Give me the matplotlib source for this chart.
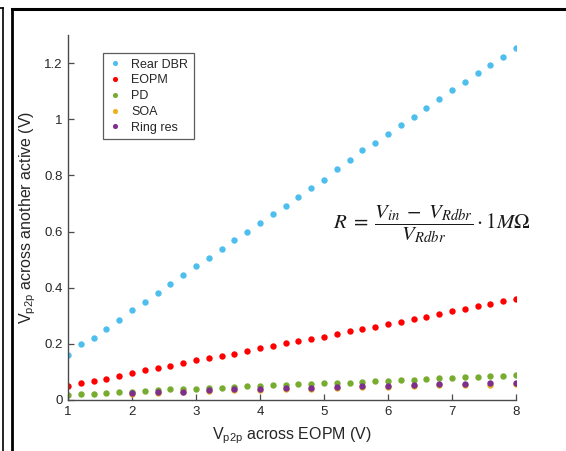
import numpy as np
import matplotlib
matplotlib.use("Agg")
import matplotlib.pyplot as plt
from matplotlib.lines import Line2D

plt.rcParams['font.family'] = ['Liberation Sans', 'DejaVu Sans']

# ---- data ----
x_main = [1.0, 1.2, 1.4, 1.6, 1.8, 2.0, 2.2, 2.4, 2.6, 2.8, 3.0, 3.2, 3.4, 3.6, 3.8, 4.0, 4.2, 4.4,
          4.6, 4.8, 5.0, 5.2, 5.4, 5.6, 5.8, 6.0, 6.2, 6.4, 6.6, 6.8, 7.0, 7.2, 7.4, 7.6, 7.8, 8.0]
rear_dbr = [0.162, 0.200, 0.221, 0.253, 0.285, 0.320, 0.349, 0.381, 0.413, 0.445, 0.477, 0.506,
            0.538, 0.570, 0.600, 0.630, 0.662, 0.690, 0.723, 0.755, 0.783, 0.822, 0.855, 0.890,
            0.915, 0.947, 0.979, 1.008, 1.040, 1.072, 1.104, 1.133, 1.165, 1.193, 1.222, 1.254]
eopm = [0.050, 0.059, 0.068, 0.076, 0.084, 0.096, 0.107, 0.114, 0.122, 0.132, 0.141, 0.150,
        0.157, 0.165, 0.176, 0.184, 0.193, 0.202, 0.210, 0.218, 0.225, 0.235, 0.245, 0.254,
        0.261, 0.271, 0.279, 0.287, 0.296, 0.306, 0.316, 0.324, 0.334, 0.343, 0.351, 0.360]
pd_ = [0.018, 0.020, 0.022, 0.025, 0.027, 0.030, 0.033, 0.036, 0.038, 0.038, 0.039, 0.041,
       0.043, 0.046, 0.049, 0.051, 0.052, 0.053, 0.056, 0.058, 0.059, 0.061, 0.062, 0.065,
       0.066, 0.069, 0.071, 0.072, 0.076, 0.077, 0.079, 0.081, 0.083, 0.084, 0.085, 0.088]
x_sparse = [2.0, 2.4, 2.8, 3.2, 3.6, 4.0, 4.4, 4.8, 5.2, 5.6, 6.0, 6.4, 6.8, 7.2, 7.6, 8.0]
soa = [0.022, 0.024, 0.027, 0.032, 0.034, 0.036, 0.039, 0.040, 0.042, 0.045, 0.047, 0.049,
       0.052, 0.053, 0.055, 0.058]
ring_res = [0.026, 0.028, 0.030, 0.036, 0.038, 0.040, 0.043, 0.044, 0.046, 0.049, 0.051, 0.053,
            0.056, 0.057, 0.059, 0.062]

series = [
    ("Rear DBR", x_main, rear_dbr, "#4DBEEE"),
    ("EOPM", x_main, eopm, "#FF0000"),
    ("PD", x_main, pd_, "#77AC30"),
    ("SOA", x_sparse, soa, "#EDB120"),
    ("Ring res", x_sparse, ring_res, "#7E2F8E"),
]
x_ticks = [1, 2, 3, 4, 5, 6, 7, 8]
y_ticks = [0, 0.2, 0.4, 0.6, 0.8, 1.0, 1.2]
y_tick_labels = ["0", "0.2", "0.4", "0.6", "0.8", "1", "1.2"]

# ---- figure ----
W, H = 566, 451
fig = plt.figure(figsize=(W / 100, H / 100), dpi=100)
ax = fig.add_axes([68 / W, 1 - 400 / H, (516 - 68) / W, (400 - 35) / H])

for name, xs, ys, c in series:
    ax.plot(xs, ys, linestyle='none', marker='o', markersize=4.6,
            markeredgewidth=0, color=c, label=name)

ax.set_xlim(1, 8)
ax.set_ylim(0, 1.3)
ax.set_xticks(x_ticks)
ax.set_xticklabels([str(t) for t in x_ticks])
ax.set_yticks(y_ticks)
ax.set_yticklabels(y_tick_labels)

for s in ['top', 'right']:
    ax.spines[s].set_visible(False)
for s in ['left', 'bottom']:
    ax.spines[s].set_color('#4a4a4a')
    ax.spines[s].set_linewidth(1.0)
ax.tick_params(direction='in', length=4, width=0.9, color='#4a4a4a',
               labelsize=9.5, labelcolor='#262626', pad=4)

ax.set_xlabel(r"V$_{\mathregular{p2p}}$ across EOPM (V)", fontsize=11.5, color='#262626')
ax.set_ylabel(r"V$_{\mathregular{p2p}}$ across another active (V)", fontsize=11.5, color='#262626')
ax.xaxis.set_label_coords(0.5, -0.070)
ax.yaxis.set_label_coords(-0.068, 0.5)

leg = ax.legend(loc='upper left', bbox_to_anchor=((103 - 68) / 448, (400 - 53) / 365),
                borderaxespad=0, fancybox=False, frameon=True, fontsize=9,
                handlelength=1.0, handletextpad=0.8, labelspacing=0.3,
                borderpad=0.45, markerscale=0.8)
leg.get_frame().set_edgecolor('#333333')
leg.get_frame().set_linewidth(0.9)
for t in leg.get_texts():
    t.set_color('#262626')

ax.text(333 / W, 1 - 224 / H,
        r"$R\;=\;\dfrac{V_{in}\;-\;V_{Rdbr}}{V_{Rdbr}}\cdot 1M\Omega$",
        transform=fig.transFigure, fontsize=15, math_fontfamily='stix',
        ha='left', va='center', color='#1a1a1a')

# panel frame lines
fig.add_artist(Line2D([2.5 / W, 2.5 / W], [0, 1 - 8 / H], transform=fig.transFigure,
                      color='black', linewidth=1.2))
fig.add_artist(Line2D([0, 2.5 / W], [1 - 8 / H, 1 - 8 / H], transform=fig.transFigure,
                      color='black', linewidth=1.2))
fig.add_artist(Line2D([11.5 / W, 11.5 / W], [0, 1 - 9 / H], transform=fig.transFigure,
                      color='black', linewidth=2.0))
fig.add_artist(Line2D([11.5 / W, 1], [1 - 9 / H, 1 - 9 / H], transform=fig.transFigure,
                      color='black', linewidth=2.2))

fig.savefig("out.png", dpi=100)
